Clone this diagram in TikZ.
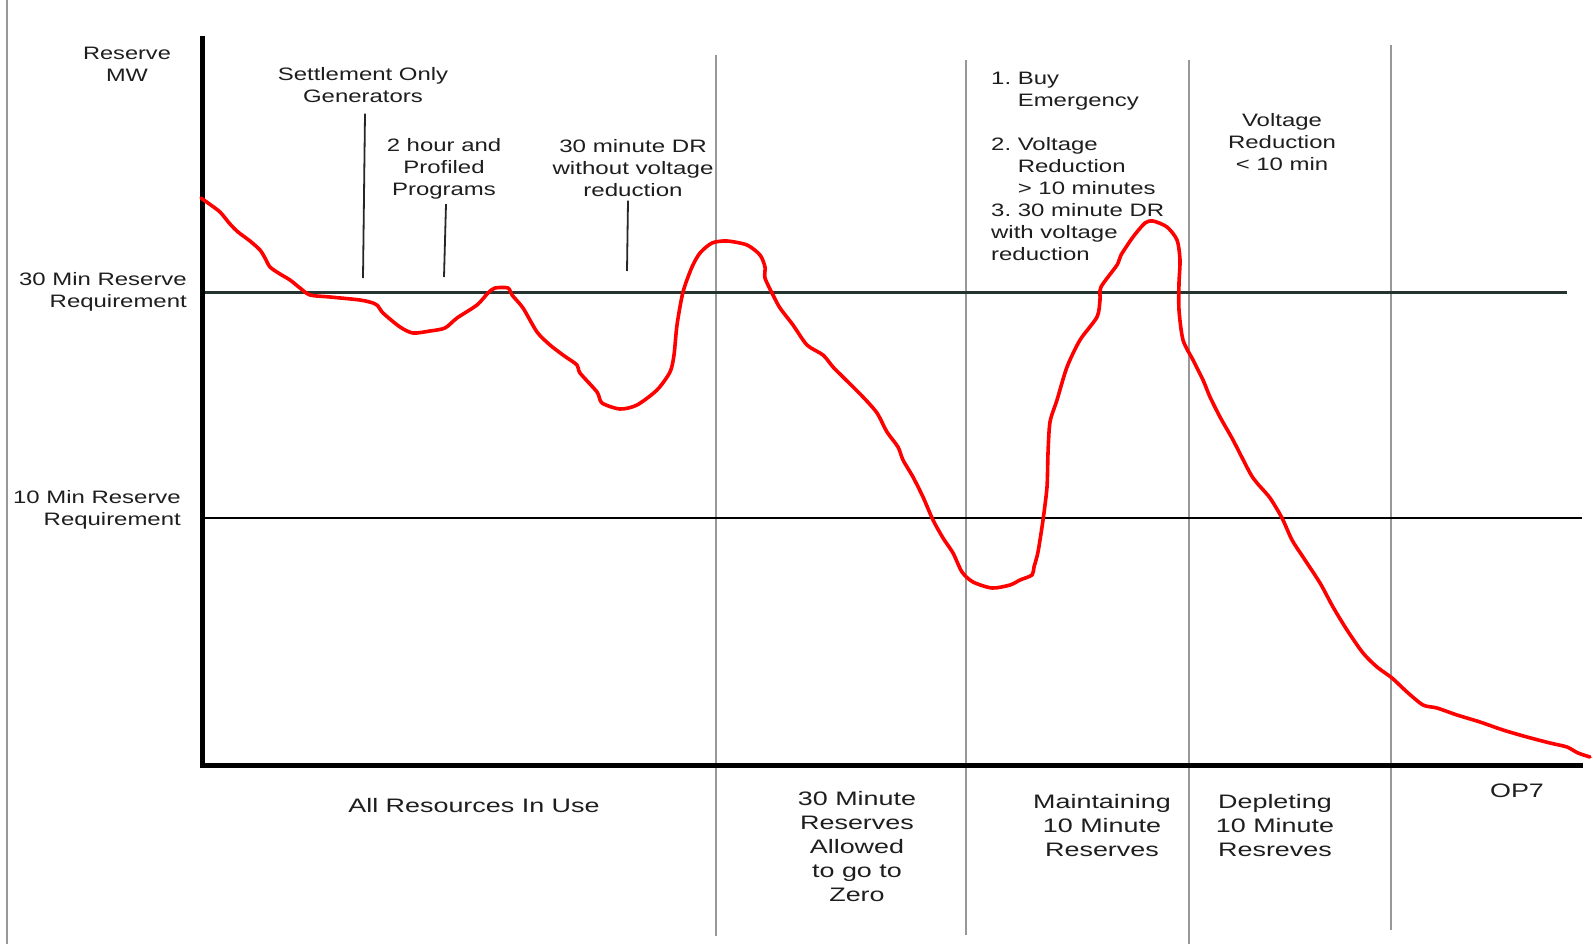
\documentclass[tikz,border=0pt]{standalone}
\usepackage{fontspec}
\setmainfont{Liberation Sans}
\usepackage{graphicx}
\newcommand{\wt}[3]{\scalebox{#1}[1]{\begin{tabular}{@{}#2@{}}#3\end{tabular}}}
\definecolor{txtc}{RGB}{30,30,30}
\definecolor{gridgray}{RGB}{150,152,156}
\definecolor{req30c}{RGB}{38,52,48}
\tikzset{
  toptxt/.style={font=\fontsize{18}{22}\selectfont, inner sep=0pt, text=txtc},
  bottxt/.style={font=\fontsize{19.5}{24}\selectfont, inner sep=0pt, text=txtc},
  vgrid/.style={draw=gridgray, line width=2.5pt},
  axisline/.style={draw=black, line width=5pt},
  ptr/.style={draw=black!85, line width=1.8pt},
  reserve/.style={draw=red, line width=3.6pt, line join=round, line cap=round}
}
\begin{document}
\begin{tikzpicture}[x=1pt,y=-1pt]
\useasboundingbox (0,0) rectangle (1593,944);
\fill[white] (0,0) rectangle (1593,944);
% left border
\draw[draw=gridgray, line width=1.8pt] (7,0) -- (7,944);
% vertical period separators
\draw[vgrid] (716,55) -- (716,936);
\draw[vgrid] (966,60) -- (966,935);
\draw[vgrid] (1189,60) -- (1189,944);
\draw[vgrid] (1391,45) -- (1391,930);
% requirement lines
\draw[draw=req30c, line width=3pt] (202,292) -- (1567,292);
\draw[draw=black, line width=2.4pt] (202,518) -- (1582,518);
% axes
\draw[axisline] (202,36) -- (202,767);
\draw[axisline] (200,765) -- (1583,765);
% texts
\node[toptxt] (reserve) at (127,66.5) {\wt{1.31}{c}{Reserve\\MW}};
\node[toptxt] (settle) at (363,87.5) {\wt{1.33}{c}{Settlement Only\\Generators}};
\node[toptxt] (prog) at (444,169) {\wt{1.33}{c}{2 hour and\\Profiled\\Programs}};
\node[toptxt] (drw) at (633,170.5) {\wt{1.34}{c}{30 minute DR\\without voltage\\reduction}};
\node[toptxt, anchor=east] (req30) at (187,292.5) {\wt{1.33}{r}{30 Min Reserve\\Requirement}};
\node[toptxt, anchor=east] (req10) at (181,510) {\wt{1.33}{r}{10 Min Reserve\\Requirement}};
\node[toptxt, anchor=north west] (emerg) at (991,69) {\wt{1.33}{l@{\hspace{5pt}}l}{1. & Buy\\ & Emergency\\ & \\ 2. & Voltage\\ & Reduction\\ & > 10 minutes\\ 3. & 30 minute DR\\ \multicolumn{2}{@{}l@{}}{with voltage}\\ \multicolumn{2}{@{}l@{}}{reduction}}};
\node[toptxt] (vred) at (1282,144.5) {\wt{1.33}{c}{Voltage\\Reduction\\< 10 min}};
\node[bottxt] (allres) at (474,808) {\wt{1.38}{c}{All Resources In Use}};
\node[bottxt] (min30) at (857,848.5) {\wt{1.38}{c}{30 Minute\\Reserves\\Allowed\\to go to\\Zero}};
\node[bottxt] (maint) at (1102,828) {\wt{1.38}{c}{Maintaining\\10 Minute\\Reserves}};
\node[bottxt] (deplete) at (1275,828) {\wt{1.38}{c}{Depleting\\10 Minute\\Resreves}};
\node[bottxt] (op7) at (1517,793) {\wt{1.38}{c}{OP7}};
% pointer lines
\coordinate (p1) at (363,278);
\coordinate (p2) at (444,277);
\coordinate (p3) at (627,271);
\draw[ptr] ([xshift=2pt,yshift=-4pt]settle.south) -- (p1);
\draw[ptr] ([xshift=2pt,yshift=-2pt]prog.south) -- (p2);
\draw[ptr] ([xshift=-5pt,yshift=3pt]drw.south) -- (p3);
% reserve curve
\draw[reserve] plot[smooth, tension=0.45] coordinates {
(201,198) (208,203) (220,212) (230,224) (238,232) (250,241) (260,250) (265,258)
(270,267) (280,274) (290,280) (300,288) (310,295) (330,297) (360,300) (373,303)
(378,306) (383,313) (400,327) (413,333) (430,331) (445,328) (457,318) (477,305)
(488,293) (495,288) (508,288) (512,295) (523,308) (537,332) (550,345) (563,355)
(577,365) (580,373) (597,392) (602,403) (620,409) (637,405) (657,390) (670,372)
(674,355) (677,325) (683,292) (692,267) (700,253) (712,243) (727,241) (747,245)
(760,255) (765,267) (765,278) (773,295) (780,308) (793,325) (807,345) (823,355)
(833,367) (843,377) (863,397) (877,413) (887,432) (898,447) (903,460) (913,477)
(923,497) (933,520) (943,538) (953,553) (962,572) (973,582) (992,588) (1010,585)
(1020,580) (1032,575) (1034,567) (1038,552) (1043,520) (1047,487) (1048,453) (1050,422)
(1057,400) (1067,367) (1080,340) (1097,317) (1100,300) (1101,287) (1117,265) (1121,255)
(1133,237) (1145,223) (1153,221) (1167,227) (1177,240) (1180,260) (1179,283) (1179,310)
(1183,340) (1193,360) (1203,380) (1210,397) (1220,417) (1233,440) (1250,473) (1257,483)
(1270,498) (1282,518) (1292,540) (1303,557) (1320,583) (1333,607) (1347,630) (1363,653)
(1377,667) (1392,678) (1407,692) (1423,705) (1437,708) (1457,715) (1480,722) (1503,730)
(1527,737) (1550,743) (1567,747) (1578,753) (1590,757)};
\end{tikzpicture}
\end{document}
